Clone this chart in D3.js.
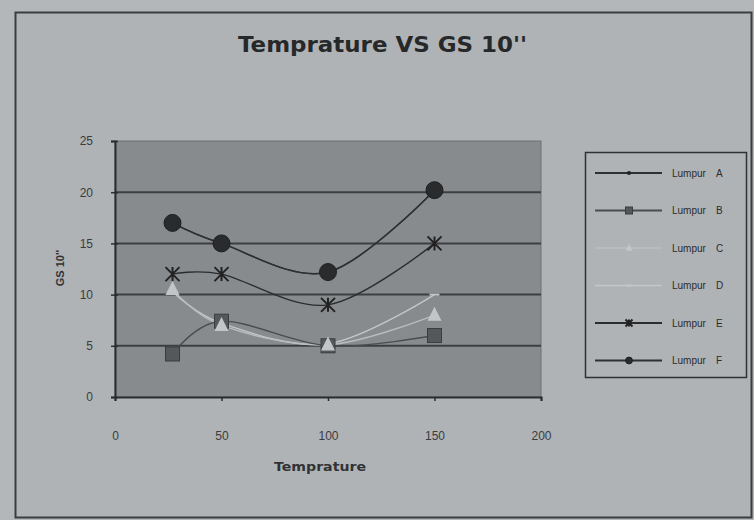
<!DOCTYPE html>
<html>
<head>
<meta charset="utf-8">
<script src="https://cdn.jsdelivr.net/npm/d3@7"></script>
<style>
html,body{margin:0;padding:0;background:#b2b5b8;}
svg{display:block;}
</style>
</head>
<body>
<svg id="chart" width="754" height="520"></svg>
<script>
// ---- data ----
const temperatures = [27, 50, 100, 150];
const seriesNames = ["Lumpur A", "Lumpur B", "Lumpur C", "Lumpur D", "Lumpur E", "Lumpur F"];
const lumpurA = [17, 15, 12.2, 20.2];
const lumpurB = [4.2, 7.4, 5, 6];
const lumpurC = [10.5, 7, 5.1, 8];
const lumpurD = [10.3, 7.2, 5.2, 10];
const lumpurE = [12, 12, 9, 15];
const lumpurF = [17, 15, 12.2, 20.2];
const xTicks = [0, 50, 100, 150, 200];
const yTicks = [0, 5, 10, 15, 20, 25];

const seriesValues = [lumpurA, lumpurB, lumpurC, lumpurD, lumpurE, lumpurF];
const styles = [
  {line:"#2e3032", width:1.4, marker:"dot", fill:"#222", r:7},
  {line:"#4a4d50", width:1.4, marker:"square", fill:"#55585a", r:7},
  {line:"#b9bcbe", width:1.4, marker:"triangle", fill:"#c3c6c8", r:7},
  {line:"#c4c7c9", width:1.3, marker:"dash", fill:"#c4c7c9", r:5},
  {line:"#2a2c2e", width:1.4, marker:"star", fill:"#222", r:7},
  {line:"#2e3032", width:1.4, marker:"circle", fill:"#2a2b2d", r:8.5}
];

const svg = d3.select("#chart");
const W = 754, H = 520;

// chart frame
svg.append("rect").attr("x",0).attr("y",0).attr("width",W).attr("height",H).attr("fill","#b4b7ba");
svg.append("rect").attr("x",15.5).attr("y",12.5).attr("width",736).attr("height",505)
  .attr("fill","#b0b3b6").attr("stroke","#3a3c3f").attr("stroke-width",2);

const x = d3.scaleLinear().domain([0,200]).range([115,541]);
const y = d3.scaleLinear().domain([0,25]).range([397,141]);

// plot area
svg.append("rect").attr("x",x(0)).attr("y",y(25)).attr("width",x(200)-x(0)).attr("height",y(0)-y(25))
  .attr("fill","#888b8e").attr("stroke","#6e7174").attr("stroke-width",1);

// gridlines
svg.append("g").selectAll("line").data(yTicks.filter(d=>d>0 && d<25)).join("line")
  .attr("x1",x(0)).attr("x2",x(200)).attr("y1",d=>y(d)).attr("y2",d=>y(d))
  .attr("stroke","#3c3f42").attr("stroke-width",2);

// axes
const yAxis = d3.axisLeft(y).tickValues(yTicks).tickSize(4).tickPadding(18);
const gy = svg.append("g").attr("transform",`translate(${x(0)},0)`).call(yAxis);
const xAxis = d3.axisBottom(x).tickValues(xTicks).tickSize(4).tickPadding(30);
const gx = svg.append("g").attr("transform",`translate(0,${y(0)})`).call(xAxis);
[gy,gx].forEach(g=>{
  g.select(".domain").attr("stroke","#2a2c2e").attr("stroke-width",2);
  g.selectAll(".tick line").attr("stroke","#2a2c2e").attr("stroke-width",1.5);
  g.selectAll(".tick text").attr("fill","#3a3c3e").attr("font-family","Liberation Sans, Arial, sans-serif").attr("font-size",12);
});
gy.selectAll(".tick line").attr("x1",3);

// titles
svg.append("text").attr("x",382.5).attr("y",52).attr("text-anchor","middle")
  .attr("font-family","DejaVu Sans, Liberation Sans, Arial, sans-serif").attr("font-weight","bold").attr("font-size",21)
  .attr("textLength",289).attr("lengthAdjust","spacingAndGlyphs")
  .attr("fill","#262829").text("Temprature VS GS 10''");
svg.append("text").attr("x",320).attr("y",471).attr("text-anchor","middle")
  .attr("font-family","DejaVu Sans, Liberation Sans, Arial, sans-serif").attr("font-weight","bold").attr("font-size",12)
  .attr("textLength",92).attr("lengthAdjust","spacingAndGlyphs")
  .attr("fill","#303234").text("Temprature");
svg.append("text").attr("transform","translate(64,268) rotate(-90)").attr("text-anchor","middle")
  .attr("font-family","Liberation Sans, Arial, sans-serif").attr("font-weight","bold").attr("font-size",11)
  .attr("fill","#303234").text("GS 10''");

// markers
function drawMarker(g, type, cx, cy, s, scale){
  const r = s.r*scale;
  if(type==="dot"){
    g.append("circle").attr("cx",cx).attr("cy",cy).attr("r",r*0.6).attr("fill",s.fill);
  } else if(type==="circle"){
    g.append("circle").attr("cx",cx).attr("cy",cy).attr("r",r).attr("fill",s.fill).attr("stroke","#1e1f20").attr("stroke-width",1);
  } else if(type==="square"){
    g.append("rect").attr("x",cx-r).attr("y",cy-r).attr("width",2*r).attr("height",2*r).attr("fill",s.fill).attr("stroke","#3a3c3e").attr("stroke-width",1);
  } else if(type==="triangle"){
    g.append("path").attr("d",`M${cx},${cy-r*1.2}L${cx+r},${cy+r*0.8}L${cx-r},${cy+r*0.8}Z`).attr("fill",s.fill);
  } else if(type==="dash"){
    g.append("line").attr("x1",cx-r).attr("x2",cx+r).attr("y1",cy).attr("y2",cy).attr("stroke",s.fill).attr("stroke-width",2);
  } else if(type==="star"){
    const p = d3.path();
    p.moveTo(cx-r,cy-r); p.lineTo(cx+r,cy+r);
    p.moveTo(cx+r,cy-r); p.lineTo(cx-r,cy+r);
    p.moveTo(cx,cy-r); p.lineTo(cx,cy+r);
    g.append("path").attr("d",p.toString()).attr("stroke",s.fill).attr("stroke-width",2).attr("fill","none");
  }
}

const line = d3.line().x(d=>x(d[0])).y(d=>y(d[1])).curve(d3.curveCardinal.tension(0));
const order = [0,3,2,1,4,5];
const lineG = svg.append("g");
const markG = svg.append("g");
order.forEach(i=>{
  const pts = temperatures.map((t,j)=>[t, seriesValues[i][j]]);
  lineG.append("path").attr("d",line(pts)).attr("fill","none").attr("stroke",styles[i].line).attr("stroke-width",styles[i].width);
});
[0,3,1,2,4,5].forEach(i=>{
  temperatures.forEach((t,j)=>drawMarker(markG, styles[i].marker, x(t), y(seriesValues[i][j]), styles[i], 1));
});

// legend
const lg = svg.append("g");
lg.append("rect").attr("x",585.5).attr("y",152.5).attr("width",161).attr("height",225)
  .attr("fill","#b0b3b6").attr("stroke","#2e3032").attr("stroke-width",1.5);
seriesNames.forEach((n,i)=>{
  const ly = 173 + i*37.5;
  const s = styles[i];
  lg.append("line").attr("x1",595).attr("x2",662).attr("y1",ly).attr("y2",ly).attr("stroke",s.line).attr("stroke-width",s.width+0.4);
  drawMarker(lg, s.marker, 629, ly, s, s.marker==="circle"?0.4:0.5);
  lg.append("text").attr("x",672).attr("y",ly+3.5).attr("font-family","Liberation Sans Narrow, Arial Narrow, Liberation Sans, sans-serif")
    .attr("font-size",10).attr("fill","#2a2c2e").text(n.replace(" ", "\u2003"));
});
</script>
</body>
</html>
